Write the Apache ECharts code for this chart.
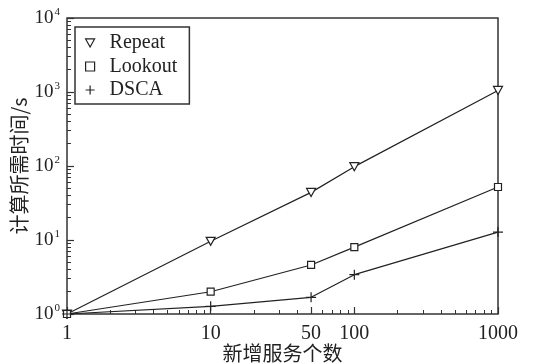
<!DOCTYPE html>
<html>
<head>
<meta charset="utf-8">
<script src="https://cdn.jsdelivr.net/npm/echarts@6/dist/echarts.min.js"></script>
<style>html,body{margin:0;padding:0;background:#fff}#c{width:535px;height:364px}</style>
</head>
<body>
<div id="c"></div>
<script>
const xValues = [1, 10, 50, 100, 1000];
const repeatTimes = [1, 9.6, 44, 98, 1050];
const lookoutTimes = [1, 2.0, 4.6, 8.0, 52];
const dscaTimes = [1, 1.27, 1.68, 3.4, 12.8];
const seriesNames = ['Repeat', 'Lookout', 'DSCA'];
const xTickLabels = [1, 10, 50, 100, 1000];
const xMinorTicks = [2,3,4,5,6,7,8,9,20,30,40,60,70,80,90,200,300,400,500,600,700,800,900];
const yMajorTicks = [1, 10, 100, 1000, 10000];
const yMinorTicks = [];
[1, 10, 100, 1000].forEach(d => { for (let k = 2; k <= 9; k++) yMinorTicks.push(d * k); });
const xTitle = '新增服务个数';
const yTitle = '计算所需时间/s';

const serif = '"Liberation Serif", "DejaVu Serif", serif';
const cjk = '"Noto Sans CJK SC", sans-serif';
const ink = '#222';

const symbols = {
  Repeat: 'path://M0,0L10,0L5,9Z',
  Lookout: 'path://M0,0L10,0L10,10L0,10Z',
  DSCA: 'path://M0,5L10,5M5,0L5,10'
};
const symbolSizes = { Repeat: [9, 8], Lookout: [7, 7], DSCA: [10, 10] };
const allData = [repeatTimes, lookoutTimes, dscaTimes];

const chart = echarts.init(document.getElementById('c'), null, { renderer: 'canvas' });
chart.setOption({
  animation: false,
  grid: { left: 67, right: 37, top: 18, bottom: 50, outerBoundsMode: 'none', containLabel: false, show: true, borderColor: '#333', borderWidth: 1.5, backgroundColor: 'transparent' },
  legend: {
    orient: 'vertical', left: 75, top: 27,
    padding: [6, 12, 4, 10], itemGap: 3.5,
    borderColor: '#333', borderWidth: 1.5, backgroundColor: '#fff',
    itemWidth: 9, itemHeight: 9,
    textStyle: { fontFamily: serif, fontSize: 20, color: ink, lineHeight: 18, padding: [0, 0, 0, 10] },
    data: seriesNames.map(n => ({ name: n, icon: symbols[n], itemStyle: { color: '#fff', borderColor: ink, borderWidth: 1.2 } }))
  },
  xAxis: [
    {
      type: 'log', logBase: 10, min: 1, max: 1000,
      name: xTitle, nameLocation: 'middle', nameGap: 29, nameMoveOverlap: false,
      nameTextStyle: { fontFamily: cjk, fontSize: 20, color: ink },
      axisLine: { show: false },
      axisTick: { show: true, inside: true, length: 7, lineStyle: { color: '#333', width: 1.2 }, customValues: xTickLabels },
      axisLabel: { fontFamily: serif, fontSize: 20, color: ink, margin: 10, customValues: xTickLabels, formatter: v => String(v) },
      splitLine: { show: false }
    },
    {
      type: 'log', logBase: 10, min: 1, max: 1000, position: 'bottom',
      axisLine: { show: false },
      axisTick: { show: true, inside: true, length: 4, lineStyle: { color: '#333', width: 1 }, customValues: xMinorTicks },
      axisLabel: { show: false },
      splitLine: { show: false }
    }
  ],
  yAxis: [
    {
      type: 'log', logBase: 10, min: 1, max: 10000,
      name: yTitle, nameLocation: 'middle', nameGap: 38, nameRotate: 90, nameMoveOverlap: false,
      nameTextStyle: { fontFamily: cjk, fontSize: 20, color: ink },
      axisLine: { show: false },
      axisTick: { show: true, inside: true, length: 7, lineStyle: { color: '#333', width: 1.2 }, customValues: yMajorTicks },
      axisLabel: {
        fontFamily: serif, fontSize: 19, color: ink, margin: 7, customValues: yMajorTicks,
        formatter: v => '10{sup|' + Math.round(Math.log10(v)) + '}',
        rich: { sup: { fontFamily: serif, fontSize: 11, color: ink, padding: [0, 0, 12, 1] } }
      },
      splitLine: { show: false }
    },
    {
      type: 'log', logBase: 10, min: 1, max: 10000, position: 'left',
      axisLine: { show: false },
      axisTick: { show: true, inside: true, length: 4, lineStyle: { color: '#333', width: 1 }, customValues: yMinorTicks },
      axisLabel: { show: false },
      splitLine: { show: false }
    }
  ],
  series: seriesNames.map((n, i) => ({
    name: n, type: 'line',
    xAxisIndex: 0, yAxisIndex: 0,
    data: xValues.map((x, j) => [x, allData[i][j]]),
    symbol: symbols[n], symbolSize: symbolSizes[n], showAllSymbol: true,
    lineStyle: { color: ink, width: 1.2 },
    itemStyle: { color: '#fff', borderColor: ink, borderWidth: 1.2 },
    z: 3
  }))
});
</script>
</body>
</html>
